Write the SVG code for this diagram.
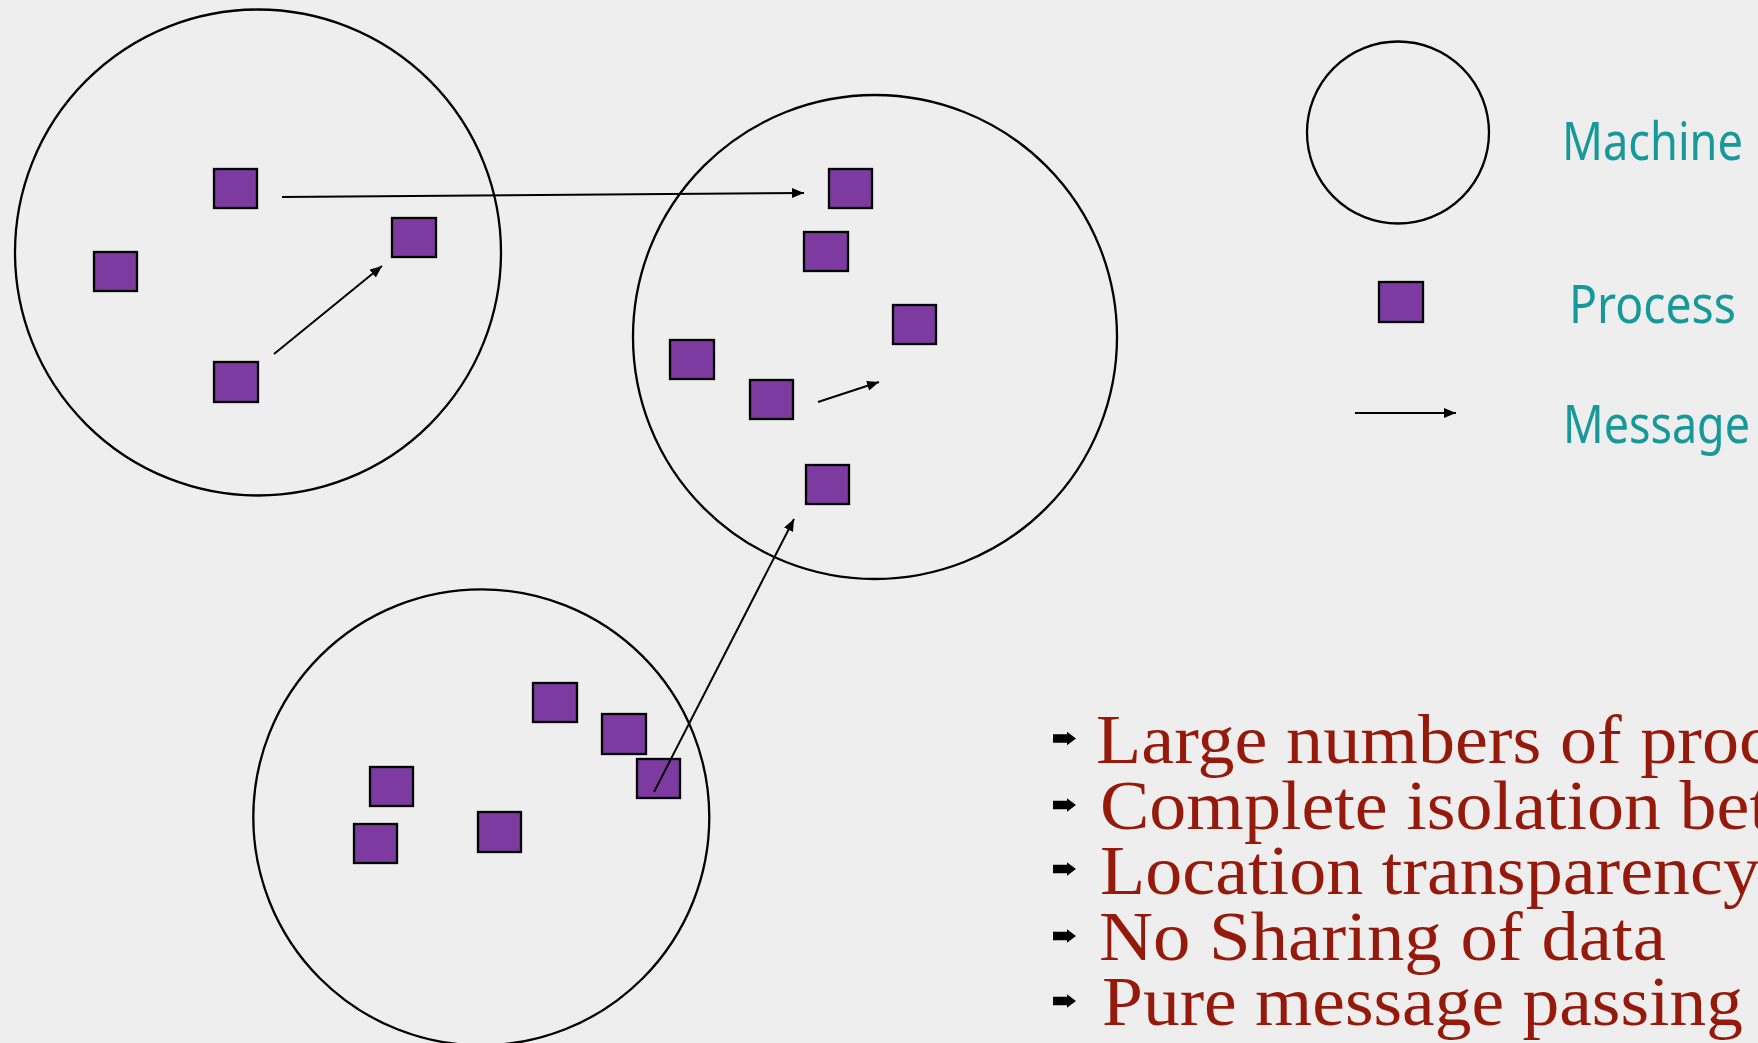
<svg xmlns="http://www.w3.org/2000/svg" width="1758" height="1043" viewBox="0 0 1758 1043">
<style>
.machine{fill:none;stroke:#000;stroke-width:2.3}
.proc{fill:#7d3aa0;stroke:#000;stroke-width:2.3}
.msg{fill:none;stroke:#000;stroke-width:2;marker-end:url(#ah)}
.legend{font-family:"Noto Sans","DejaVu Sans",sans-serif;font-size:52px;fill:#17999a}
.bul{font-family:"Liberation Serif","DejaVu Serif",serif;font-size:69px;fill:#951a0b}
</style>
<defs>
<marker id="ah" markerUnits="userSpaceOnUse" markerWidth="13" markerHeight="11" refX="12" refY="5" orient="auto">
<path d="M0,0 L12,5 L0,10 Z" fill="#000"/>
</marker>
<path id="bullet" d="M0,-4.3 H14 V-6.8 L23,0 L14,6.8 V4.3 H0 Z" fill="#000"/>
</defs>
<rect x="0" y="0" width="1758" height="1043" fill="#eeeeee"/>

<g id="machine1">
<circle class="machine" cx="258" cy="252.5" r="243"/>
<rect id="p1a" class="proc" x="214" y="169" width="43" height="39"/>
<rect id="p1b" class="proc" x="392" y="218" width="44" height="39"/>
<rect id="p1c" class="proc" x="94" y="252" width="43" height="39"/>
<rect id="p1d" class="proc" x="214" y="362" width="44" height="40"/>
</g>

<g id="machine2">
<circle class="machine" cx="875" cy="337" r="242"/>
<rect id="p2a" class="proc" x="829" y="169" width="43" height="39"/>
<rect id="p2b" class="proc" x="804" y="232" width="44" height="39"/>
<rect id="p2c" class="proc" x="893" y="305" width="43" height="39"/>
<rect id="p2d" class="proc" x="670" y="340" width="44" height="39"/>
<rect id="p2e" class="proc" x="750" y="380" width="43" height="39"/>
<rect id="p2f" class="proc" x="806" y="465" width="43" height="39"/>
</g>

<g id="machine3">
<circle class="machine" cx="481.3" cy="817.3" r="228"/>
<rect id="p3a" class="proc" x="533" y="683" width="44" height="39"/>
<rect id="p3b" class="proc" x="602" y="714" width="44" height="40"/>
<rect id="p3c" class="proc" x="637" y="759" width="43" height="39"/>
<rect id="p3d" class="proc" x="370" y="767" width="43" height="39"/>
<rect id="p3e" class="proc" x="354" y="824" width="43" height="39"/>
<rect id="p3f" class="proc" x="478" y="812" width="43" height="40"/>
</g>

<g id="connectors">
<line class="msg" x1="282" y1="197" x2="804" y2="193"/>
<line class="msg" x1="274" y1="354" x2="382" y2="266"/>
<line class="msg" x1="818" y1="402" x2="879" y2="382"/>
<line class="msg" x1="654" y1="792" x2="794" y2="519"/>
</g>

<g id="legend">
<g id="legend-machine">
<circle class="machine" cx="1398" cy="132.5" r="91"/>
<text class="legend" x="1562" y="160" textLength="181" lengthAdjust="spacingAndGlyphs">Machine</text>
</g>
<g id="legend-process">
<rect class="proc" x="1379" y="282" width="44" height="40"/>
<text class="legend" x="1569" y="323" textLength="167" lengthAdjust="spacingAndGlyphs">Process</text>
</g>
<g id="legend-message">
<line class="msg" x1="1355" y1="413" x2="1456" y2="413"/>
<text class="legend" x="1563" y="443" textLength="187" lengthAdjust="spacingAndGlyphs">Message</text>
</g>
</g>

<g id="bullets">
<use href="#bullet" x="1053" y="738.5"/>
<use href="#bullet" x="1053" y="805"/>
<use href="#bullet" x="1053" y="869"/>
<use href="#bullet" x="1053" y="936"/>
<use href="#bullet" x="1053" y="1001"/>
<text class="bul" x="1096" y="763" textLength="676" lengthAdjust="spacingAndGlyphs">Large numbers of proc</text>
<text class="bul" x="1100" y="829" textLength="670" lengthAdjust="spacingAndGlyphs">Complete isolation bet</text>
<text class="bul" x="1100" y="894" textLength="660" lengthAdjust="spacingAndGlyphs">Location transparency</text>
<text class="bul" x="1099" y="960" textLength="567" lengthAdjust="spacingAndGlyphs">No Sharing of data</text>
<text class="bul" x="1102" y="1025" textLength="641" lengthAdjust="spacingAndGlyphs">Pure message passing</text>
</g>
</svg>
